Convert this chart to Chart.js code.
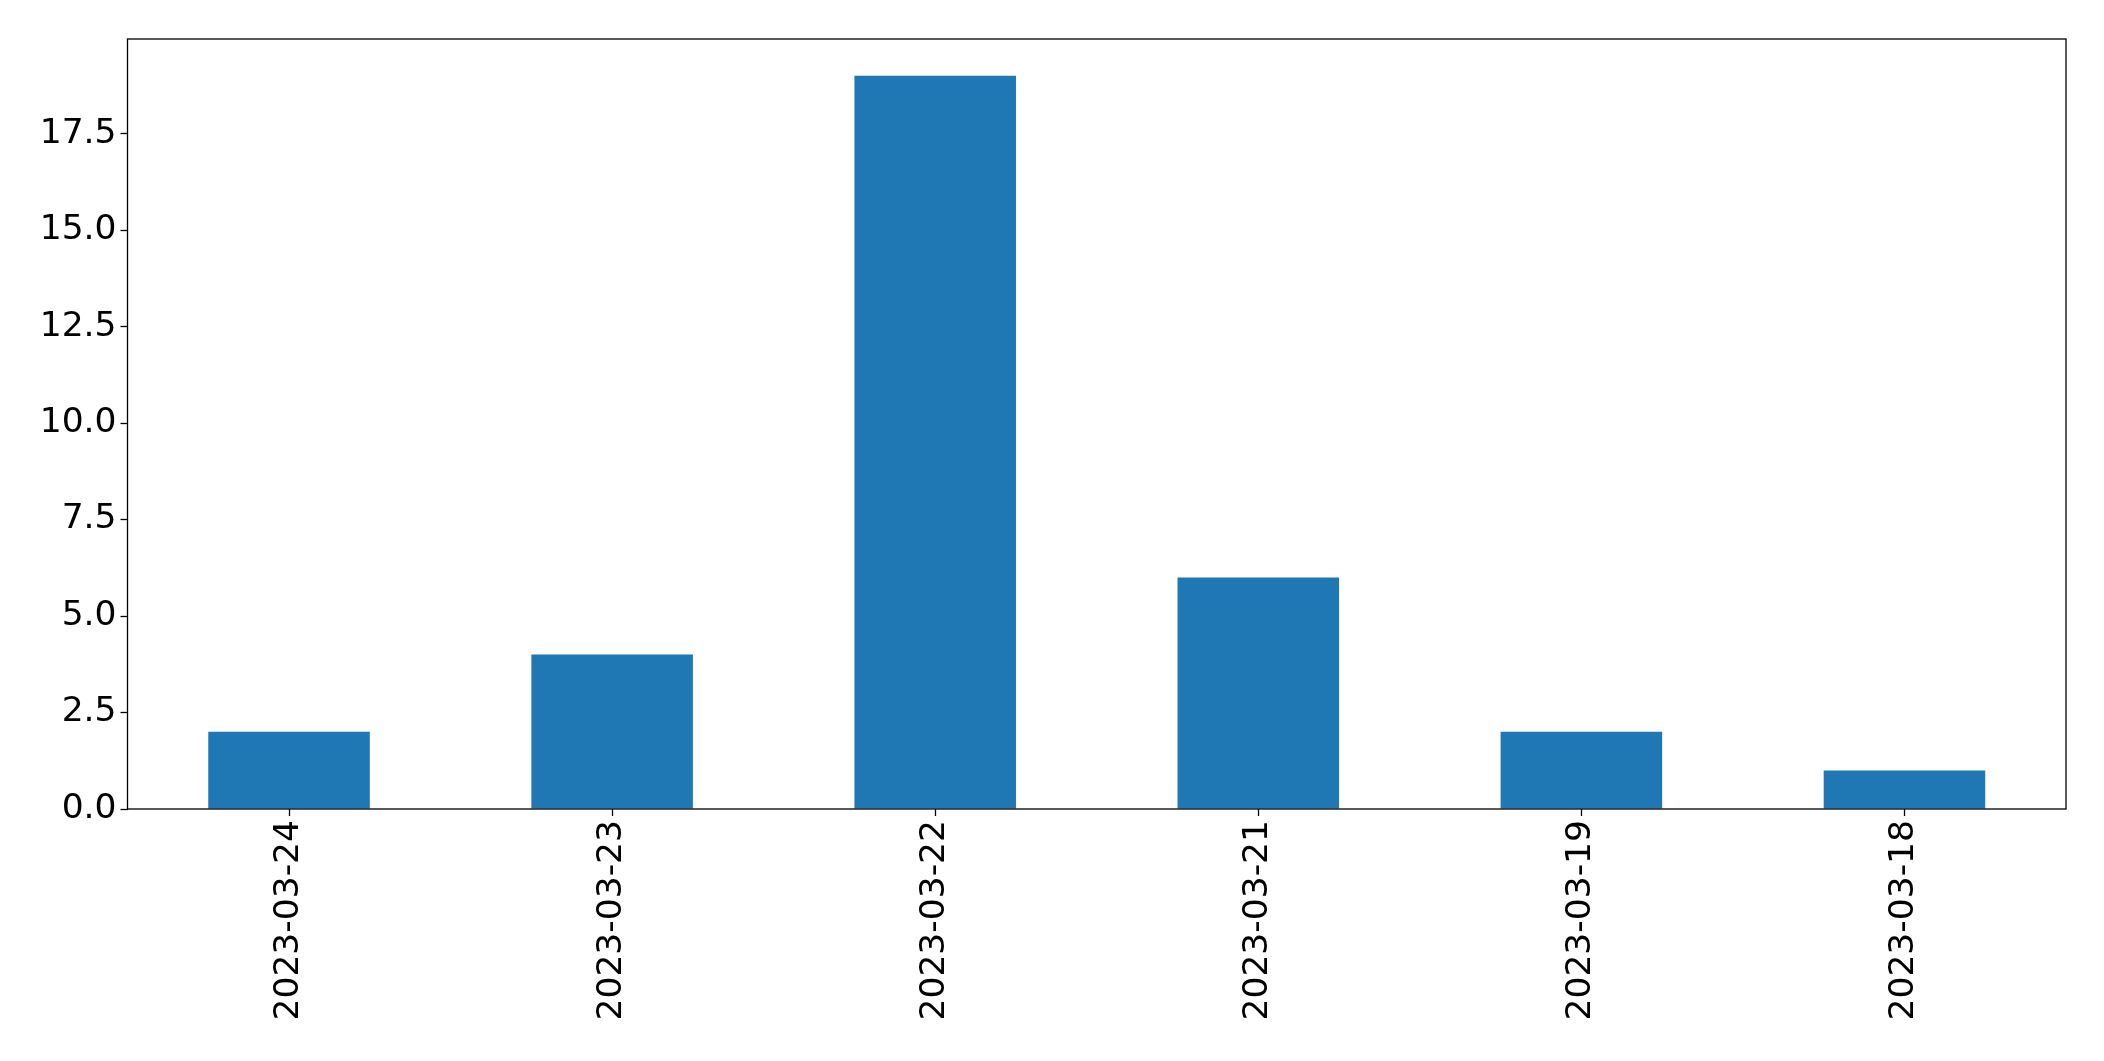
<!DOCTYPE html>
<html>
<head>
<meta charset="utf-8">
<script src="https://cdn.jsdelivr.net/npm/chart.js@4"></script>
<style>
  html, body { margin: 0; padding: 0; background: #fff; }
  #wrap { width: 2104px; height: 1061px; }
</style>
</head>
<body>
<div id="wrap"><canvas id="chart" width="2104" height="1061"></canvas></div>
<script>
const dates = ["2023-03-24", "2023-03-23", "2023-03-22", "2023-03-21", "2023-03-19", "2023-03-18"];
const counts = [2, 4, 19, 6, 2, 1];
const yMax = 19.95;
const yStep = 2.5;

// matplotlib-like frame around the plot area
const frame = {
  id: "frame",
  afterDraw(chart) {
    const { ctx, chartArea: a } = chart;
    ctx.save();
    ctx.strokeStyle = "#000";
    ctx.lineWidth = 1.3;
    ctx.strokeRect(a.left, a.top, a.right - a.left, a.bottom - a.top);
    ctx.restore();
  },
};

const ctx = document.getElementById("chart").getContext("2d");
Chart.defaults.font.family = "DejaVu Sans";

new Chart(ctx, {
  type: "bar",
  data: {
    labels: dates,
    datasets: [
      {
        data: counts,
        backgroundColor: "#1f77b4",
        barPercentage: 0.5,
        categoryPercentage: 1.0,
      },
    ],
  },
  options: {
    responsive: false,
    animation: false,
    layout: { padding: { top: 39, right: 38, left: 0, bottom: 0 } },
    plugins: { legend: { display: false }, tooltip: { enabled: false } },
    scales: {
      x: {
        grid: { display: true, offset: false, drawOnChartArea: false, tickLength: 7, tickColor: "#000", tickWidth: 1.3 },
        border: { display: false },
        ticks: { color: "#000", font: { size: 34.5 }, minRotation: 90, maxRotation: 90, padding: 4 },
        afterFit: (s) => { s.height = 252; },
      },
      y: {
        min: 0,
        max: yMax,
        grid: { display: true, drawOnChartArea: false, tickLength: 7, tickColor: "#000", tickWidth: 1.3 },
        border: { display: false },
        ticks: {
          color: "#000",
          font: { size: 34.5 },
          stepSize: yStep,
          padding: 4,
          callback: (v) => v.toFixed(1),
        },
        afterBuildTicks: (s) => {
          s.ticks = s.ticks.filter((t) => Math.abs(t.value / yStep - Math.round(t.value / yStep)) < 1e-6);
        },
        afterFit: (s) => { s.width = 127.5; },
      },
    },
  },
  plugins: [frame],
});
</script>
</body>
</html>
